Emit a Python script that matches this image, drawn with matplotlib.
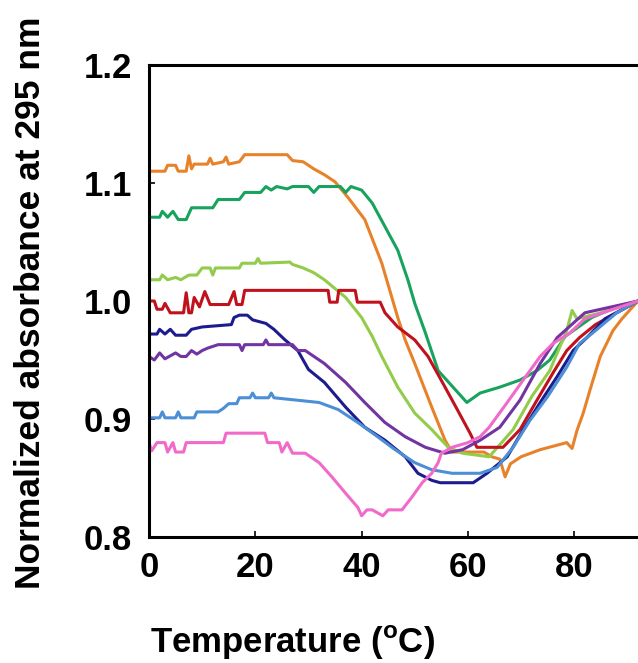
import matplotlib
matplotlib.use('Agg')
import matplotlib.pyplot as plt

plt.rcParams['font.family'] = ['Liberation Sans', 'DejaVu Sans']
plt.rcParams['font.weight'] = 'bold'
plt.rcParams['mathtext.fontset'] = 'custom'
plt.rcParams['mathtext.rm'] = 'Liberation Sans:bold'
plt.rcParams['mathtext.bf'] = 'Liberation Sans:bold'

# temperature (C) / normalized absorbance
orange_t = [0, 3, 3.5, 5, 5.5, 7, 7.5, 8, 8.5, 11, 11.5, 12, 14, 14.5, 15, 17, 18, 26, 27,
            29, 31, 33, 35, 37.4, 40.6, 43.8, 46.8, 48.2, 50, 53.2, 55.7, 57, 63, 64.5, 66,
            67, 68, 70, 73.6, 78.6, 79.6, 80.5, 81.7, 83, 84.9, 87.3, 89, 92]
orange_a = [1.110, 1.110, 1.115, 1.115, 1.110, 1.110, 1.123, 1.112, 1.116, 1.116, 1.121,
            1.116, 1.118, 1.122, 1.116, 1.118, 1.124, 1.124, 1.119, 1.118, 1.112, 1.107,
            1.101, 1.088, 1.069, 1.032, 0.986, 0.967, 0.947, 0.910, 0.882, 0.872, 0.872,
            0.868, 0.866, 0.851, 0.862, 0.868, 0.874, 0.880, 0.875, 0.890, 0.905, 0.925,
            0.953, 0.975, 0.985, 1.000]

green_t = [0, 2, 2.5, 3.5, 4.5, 5.5, 7, 8, 12, 13, 17, 18, 21, 22, 23, 24, 26, 27, 30, 31,
           32, 36, 37, 38, 40, 42, 44.4, 46.8, 48.7, 50, 52, 54.4, 57.6, 59.8, 62.3, 66,
           69.8, 73, 75.4, 78.3, 83.3, 88, 92]
green_a = [1.071, 1.071, 1.076, 1.071, 1.076, 1.069, 1.069, 1.079, 1.079, 1.086, 1.086,
           1.092, 1.092, 1.097, 1.094, 1.097, 1.095, 1.097, 1.097, 1.092, 1.097, 1.097,
           1.092, 1.097, 1.094, 1.083, 1.063, 1.043, 1.018, 0.998, 0.973, 0.941, 0.925,
           0.914, 0.922, 0.927, 0.933, 0.941, 0.950, 0.970, 0.986, 0.995, 1.000]

lgreen_t = [0, 2, 2.5, 3.5, 5, 6, 7.5, 9, 10, 11.5, 12, 12.5, 17, 17.5, 20, 20.5, 21, 26.5,
            27, 29, 31, 33, 37, 40, 42, 43.8, 46.8, 50, 53.2, 56.3, 59, 64, 68.5, 72, 75.4,
            78.6, 79.6, 80.5, 85, 92]
lgreen_a = [1.018, 1.018, 1.022, 1.018, 1.020, 1.018, 1.022, 1.022, 1.028, 1.028, 1.022,
            1.028, 1.028, 1.032, 1.032, 1.036, 1.032, 1.033, 1.031, 1.028, 1.024, 1.018,
            1.003, 0.986, 0.970, 0.953, 0.927, 0.905, 0.891, 0.876, 0.871, 0.868, 0.891,
            0.919, 0.941, 0.975, 0.992, 0.985, 0.990, 1.000]

red_t = [0, 1, 1.5, 2.5, 3, 4, 6.5, 7, 7.5, 8, 8.5, 9.5, 10.5, 11.5, 15, 16, 16.5, 17.5, 18,
         33.7, 34, 35.4, 35.7, 38.8, 39.2, 43.5, 44.4, 46.8, 50, 52.5, 55.7, 58, 60.4, 61.7,
         66.6, 69.8, 73, 76, 78.6, 81, 84, 88, 92]
red_a = [1.000, 1.000, 0.993, 0.993, 0.998, 0.990, 0.990, 1.007, 0.990, 0.990, 1.003,
         0.995, 1.008, 0.997, 0.997, 1.008, 0.997, 0.997, 1.009, 1.009, 0.999, 0.999,
         1.009, 1.009, 0.999, 0.999, 0.990, 0.978, 0.967, 0.953, 0.927, 0.908, 0.888,
         0.876, 0.876, 0.891, 0.916, 0.939, 0.958, 0.969, 0.980, 0.990, 1.000]

navy_t = [0, 1.5, 2, 3, 4, 5, 7, 8, 10, 15.5, 16, 17, 18.5, 19.5, 22, 23.5, 25.6, 28, 30,
          33, 37, 40.6, 44.4, 48.2, 50.6, 53.2, 54.8, 61, 63.6, 67.4, 70.4, 73.6, 76.8,
          79.8, 82.4, 85.8, 92]
navy_a = [0.972, 0.972, 0.976, 0.972, 0.976, 0.971, 0.971, 0.976, 0.978, 0.980, 0.986,
          0.988, 0.988, 0.984, 0.981, 0.976, 0.967, 0.958, 0.942, 0.931, 0.910, 0.893,
          0.882, 0.868, 0.854, 0.848, 0.846, 0.846, 0.854, 0.868, 0.891, 0.914, 0.936,
          0.958, 0.969, 0.985, 1.000]

purple_t = [0, 1, 2, 3, 5, 6, 7, 8, 9, 10, 11, 13, 17, 17.5, 18, 21.5, 22, 22.5, 27, 28,
            29.4, 33, 37, 40.6, 44.4, 48.2, 52, 55.7, 59, 62.3, 66, 69.8, 73.6, 76.8, 82, 92]
purple_a = [0.953, 0.950, 0.956, 0.951, 0.956, 0.953, 0.953, 0.958, 0.955, 0.958, 0.960,
            0.963, 0.963, 0.958, 0.963, 0.963, 0.967, 0.963, 0.963, 0.958, 0.958, 0.947,
            0.931, 0.914, 0.897, 0.885, 0.876, 0.871, 0.874, 0.882, 0.893, 0.916, 0.947,
            0.969, 0.990, 1.000]

lblue_t = [0, 2, 2.5, 3, 5, 5.5, 6, 8.5, 9, 13, 14, 15, 16.5, 17, 19, 19.5, 20, 22.5, 23,
           23.5, 32, 35.6, 39.3, 43, 46.3, 50, 53.2, 57, 62.3, 65.5, 68.5, 71.7, 75, 78.6,
           81, 83.5, 88, 92]
lblue_a = [0.901, 0.901, 0.906, 0.901, 0.901, 0.906, 0.901, 0.901, 0.906, 0.906, 0.909,
           0.913, 0.913, 0.918, 0.918, 0.922, 0.918, 0.918, 0.922, 0.918, 0.914, 0.908,
           0.897, 0.885, 0.874, 0.863, 0.857, 0.854, 0.854, 0.859, 0.876, 0.899, 0.919,
           0.944, 0.964, 0.973, 0.990, 1.000]

pink_t = [0, 0.5, 1.5, 3, 3.5, 4.5, 5, 6.5, 7, 14, 14.5, 21.8, 22.3, 24.5, 25, 26, 27,
          29.4, 32, 34.4, 37, 39.3, 40, 41, 42, 44, 45, 47.6, 49.5, 51.4, 53.2, 54.4, 55,
          57, 60, 62.3, 64, 67.4, 70.4, 73.6, 76, 79.2, 82, 92]
pink_a = [0.880, 0.873, 0.880, 0.880, 0.872, 0.880, 0.872, 0.872, 0.880, 0.880, 0.888,
          0.888, 0.880, 0.880, 0.872, 0.880, 0.871, 0.871, 0.863, 0.851, 0.837, 0.825,
          0.818, 0.823, 0.823, 0.818, 0.823, 0.823, 0.834, 0.846, 0.854, 0.863, 0.871,
          0.876, 0.880, 0.885, 0.893, 0.914, 0.933, 0.953, 0.964, 0.973, 0.985, 1.000]

series = [
    (orange_t, orange_a, '#E8822A'),
    (green_t, green_a, '#17A35E'),
    (lgreen_t, lgreen_a, '#93CB4A'),
    (red_t, red_a, '#C0121C'),
    (navy_t, navy_a, '#1C1C8E'),
    (purple_t, purple_a, '#7134A2'),
    (lblue_t, lblue_a, '#4C8FD6'),
    (pink_t, pink_a, '#F26AC9'),
]

fig = plt.figure(figsize=(6.38, 6.63), dpi=100)
ax = fig.add_axes([149 / 638, 126 / 663, 531.5 / 638, 472 / 663])

for temps, absorb, color in series:
    ax.plot(temps, absorb, color=color, linewidth=2.2)

ax.set_xlim(0, 100)
ax.set_ylim(0.8, 1.2)
ax.set_xticks([0, 20, 40, 60, 80])
ax.set_yticks([0.8, 0.9, 1.0, 1.1, 1.2])
ax.set_yticklabels(['0.8', '0.9', '1.0', '1.1', '1.2'])
ax.tick_params(direction='in', length=4, width=1.2, labelsize=25, pad=10)
ax.tick_params(axis='y', pad=12)
for spine in ax.spines.values():
    spine.set_linewidth(2.2)

# axis titles placed by hand, as in the reference
fig.text(292 / 638, 1 - 653 / 663, r'Temperature ($^{\mathbf{o}}$C)', fontsize=25,
         fontweight='bold', ha='center', va='baseline')
fig.text(31 / 638, 1 - 303 / 663, 'Normalized absorbance at 295 nm', rotation=90,
         fontsize=25.5, fontweight='bold', ha='center', va='center')

fig.savefig('out.png', dpi=100)
